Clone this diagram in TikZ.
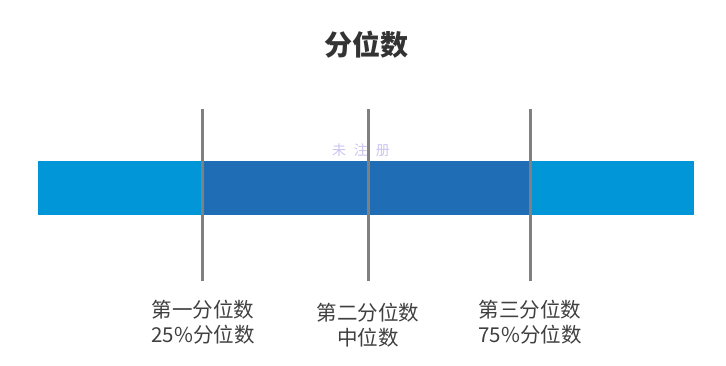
\documentclass[tikz,border=0pt]{standalone}
\usepackage{fontspec}
\newfontfamily\cjk{Noto Sans CJK SC}
\begin{document}
\begin{tikzpicture}[x=1pt,y=-1pt,
  lightbar/.style={fill={rgb,255:red,0;green,150;blue,216}},
  darkbar/.style={fill={rgb,255:red,31;green,109;blue,181}},
  qline/.style={draw={rgb,255:red,128;green,128;blue,128},line width=3pt},
  lab/.style={font=\cjk\fontsize{20.5}{25}\selectfont,text={rgb,255:red,64;green,64;blue,64},align=center,inner sep=0pt}]
\useasboundingbox (0,0) rectangle (726,366);
\fill[white] (0,0) rectangle (726,366);
\node[font=\cjk\bfseries\fontsize{28}{32}\selectfont,text={rgb,255:red,51;green,51;blue,51},inner sep=0pt] (title) at (366,45) {分位数};
\path[lightbar] (38,161) rectangle (202,215);
\path[darkbar] (202,161) rectangle (530,215);
\path[lightbar] (530,161) rectangle (694,215);
\node[font=\cjk\fontsize{14}{16}\selectfont,text={rgb,255:red,205;green,195;blue,240},inner sep=0pt] (wm) at (361,150) {未\;\;注\;\;册};
\coordinate (q1t) at (202,109); \coordinate (q1b) at (202,281);
\coordinate (q2t) at (368,109); \coordinate (q2b) at (368,281);
\coordinate (q3t) at (530,109); \coordinate (q3b) at (530,281);
\draw[qline] (q1t) -- (q1b);
\draw[qline] (q2t) -- (q2b);
\draw[qline] (q3t) -- (q3b);
\node[lab] (l1) at (203,322) {第一分位数\\25\%分位数};
\node[lab] (l2) at (368,325) {第二分位数\\中位数};
\node[lab] (l3) at (530,322) {第三分位数\\75\%分位数};
\end{tikzpicture}
\end{document}
